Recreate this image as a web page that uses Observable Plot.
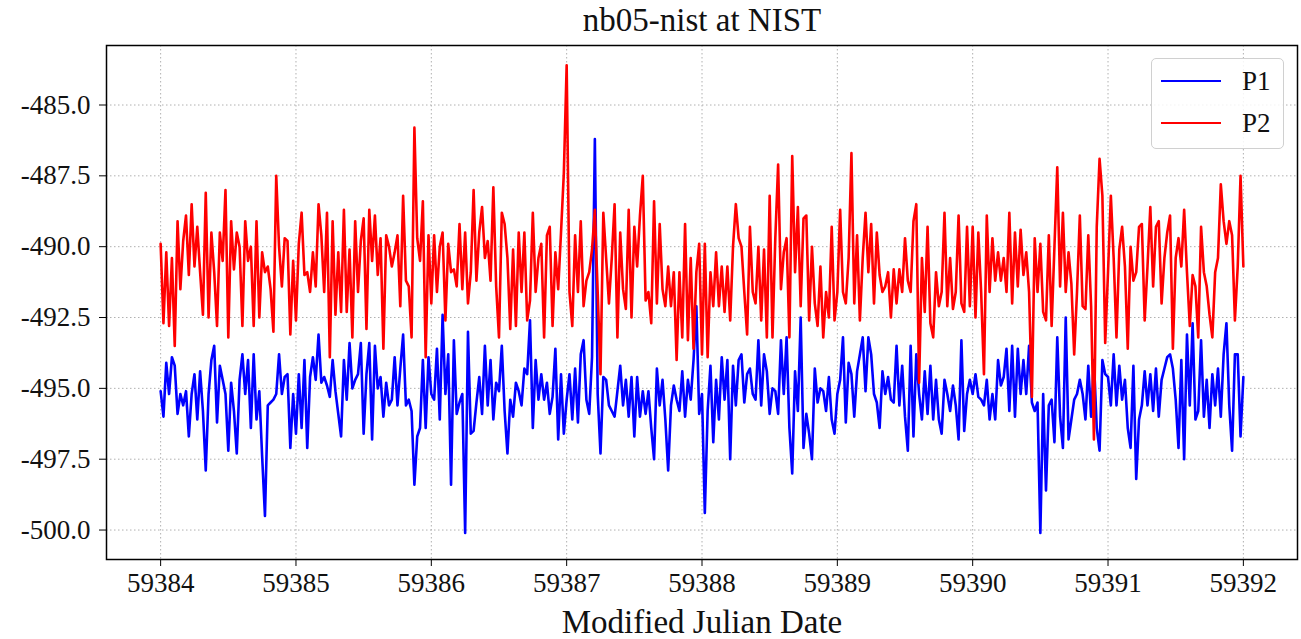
<!DOCTYPE html>
<html>
<head>
<meta charset="utf-8">
<script src="https://cdn.jsdelivr.net/npm/d3@7"></script>
<script src="https://cdn.jsdelivr.net/npm/@observablehq/plot@0.6"></script>
<style>
  html, body { margin: 0; padding: 0; background: white; }
  #wrap { position: relative; width: 1301px; height: 639px; font-family: "Liberation Serif", "Times New Roman", serif; }
  #chart svg text { font-family: "Liberation Serif", "Times New Roman", serif !important; font-variant: normal !important; }
  #legend { position: absolute; left: 1151px; top: 58px; width: 133px; height: 91px; box-sizing: border-box;
            border: 1px solid #d0d0d0; border-radius: 5px; background: rgba(255,255,255,0.85); }
  .item { position: absolute; left: 0; height: 30px; display: flex; align-items: center; }
  .swatch { width: 60px; height: 2.5px; margin-left: 9px; }
  .lab { margin-left: 21px; font-size: 27px; color: #111; }
</style>
</head>
<body>
<div id="wrap">
  <div id="chart"></div>
  <div id="legend"></div>
</div>
<script>
const title = "nb05-nist at NIST";
const xLabel = "Modified Julian Date";
const seriesNames = ["P1", "P2"];
const seriesColors = ["#0000ff", "#ff0000"];
const xTicks = [59384, 59385, 59386, 59387, 59388, 59389, 59390, 59391, 59392];
const yTicks = [-485.0, -487.5, -490.0, -492.5, -495.0, -497.5, -500.0];
const startMJD = 59384;
const samplesPerDay = 48;

// P1 values, one row per day (30-minute samples), plus final sample at 59392.0
const p1 = [
  -495.1,-496.0,-494.1,-495.2,-493.9,-494.2,-495.9,-495.2,-495.6,-495.1,-496.7,-495.2,-494.5,-496.1,-494.4,-495.8,-497.9,-495.2,-494.0,-493.5,-496.2,-494.2,-494.7,-495.2,-497.2,-494.8,-495.8,-497.3,-494.7,-493.8,-495.2,-494.0,-496.4,-493.8,-496.1,-495.1,-497.4,-499.5,-495.6,-495.5,-495.4,-495.2,-493.8,-495.2,-494.6,-494.5,-497.1,-495.2,
  -496.6,-494.5,-496.4,-494.0,-497.1,-494.6,-493.9,-494.7,-493.1,-494.8,-494.6,-494.9,-495.3,-494.0,-495.1,-495.9,-496.7,-494.0,-495.4,-493.4,-495.0,-494.7,-494.5,-493.4,-496.6,-494.5,-493.4,-496.8,-493.5,-495.0,-494.6,-496.0,-494.8,-495.6,-495.4,-493.9,-495.6,-494.3,-493.1,-495.6,-495.4,-495.8,-498.4,-496.7,-496.4,-494.0,-496.4,-493.9,
  -495.2,-495.4,-493.6,-496.1,-492.4,-495.2,-493.8,-498.4,-493.3,-495.9,-495.5,-495.2,-500.1,-493.0,-496.6,-496.5,-495.5,-494.6,-495.9,-493.5,-495.6,-494.0,-496.1,-494.8,-495.1,-493.5,-495.8,-497.3,-495.4,-496.0,-494.8,-495.1,-495.6,-494.3,-494.5,-492.6,-496.4,-494.0,-495.4,-494.5,-495.4,-494.8,-495.9,-495.3,-493.6,-496.8,-494.5,-496.6,
  -495.4,-494.5,-496.1,-494.3,-496.2,-493.8,-493.3,-495.4,-495.9,-493.9,-486.2,-495.2,-497.3,-494.6,-494.7,-495.6,-495.8,-496.0,-495.1,-494.2,-495.6,-494.7,-496.0,-494.6,-496.7,-494.6,-496.0,-495.1,-495.9,-495.1,-496.4,-497.5,-494.3,-495.6,-494.7,-496.1,-497.9,-495.6,-494.9,-495.4,-495.8,-494.4,-496.0,-494.7,-495.4,-494.0,-492.1,-495.9,
  -495.2,-499.4,-495.8,-494.2,-496.9,-494.7,-496.1,-493.9,-495.4,-494.0,-497.5,-494.2,-495.6,-494.0,-493.8,-495.5,-494.5,-494.3,-495.2,-495.4,-493.3,-495.6,-493.8,-494.4,-495.9,-495.0,-495.1,-495.9,-493.3,-495.2,-493.2,-496.4,-498.0,-494.4,-495.8,-492.5,-497.1,-495.9,-496.6,-497.5,-494.3,-495.5,-495.0,-495.1,-495.8,-494.6,-496.1,-496.6,
  -495.2,-494.7,-493.2,-496.2,-494.1,-494.5,-496.0,-494.4,-493.8,-493.2,-495.1,-493.2,-493.8,-495.2,-495.5,-496.4,-494.4,-495.2,-494.6,-495.4,-495.5,-493.5,-495.6,-494.2,-496.0,-497.2,-493.5,-496.7,-493.8,-495.2,-496.1,-494.4,-495.9,-494.2,-496.1,-494.7,-496.1,-496.6,-494.7,-495.2,-495.8,-494.9,-495.6,-496.8,-493.3,-496.5,-495.2,-494.7,
  -495.2,-494.5,-495.3,-495.4,-495.6,-494.7,-496.1,-495.2,-496.1,-494.0,-494.9,-494.6,-493.6,-495.8,-493.5,-496.0,-493.6,-495.2,-494.0,-495.2,-493.5,-495.5,-495.8,-495.5,-500.1,-495.2,-498.6,-495.6,-495.4,-496.9,-493.2,-496.0,-497.1,-492.5,-496.8,-496.1,-495.4,-495.2,-494.7,-495.2,-496.1,-494.2,-496.0,-494.0,-496.4,-497.2,-494.0,-494.5,
  -494.6,-495.6,-493.8,-495.6,-494.2,-495.4,-494.7,-496.4,-497.1,-494.2,-498.2,-496.1,-495.6,-494.4,-495.6,-494.5,-495.8,-494.3,-496.0,-494.7,-494.3,-493.9,-493.8,-494.3,-495.4,-497.1,-494.0,-497.5,-493.1,-495.6,-492.7,-496.1,-495.8,-493.3,-496.0,-494.7,-496.4,-494.5,-495.6,-494.3,-496.0,-493.8,-492.7,-495.6,-497.2,-493.8,-493.8,-496.7,
  -494.6
];

// P2 values, same sampling
const p2 = [
  -489.9,-492.7,-490.2,-492.8,-490.4,-493.5,-489.1,-491.5,-489.8,-488.9,-491.0,-488.5,-490.7,-489.3,-490.9,-492.4,-488.1,-492.5,-489.5,-490.9,-492.8,-489.5,-490.5,-488.0,-493.2,-489.1,-490.8,-489.5,-490.0,-492.8,-489.1,-490.5,-490.0,-492.8,-489.1,-492.5,-490.2,-490.9,-490.7,-491.5,-493.0,-487.5,-490.0,-491.4,-489.7,-489.8,-493.1,-490.5,
  -492.6,-489.9,-488.8,-491.0,-490.9,-491.6,-490.2,-491.4,-488.5,-489.6,-491.6,-488.8,-493.9,-489.1,-492.4,-490.2,-492.3,-488.7,-492.3,-490.1,-493.2,-489.1,-491.6,-489.8,-489.0,-492.9,-488.7,-490.5,-488.9,-491.0,-489.7,-493.6,-489.6,-490.0,-490.7,-490.2,-489.6,-492.1,-488.2,-491.2,-491.4,-493.2,-485.8,-489.7,-490.5,-488.4,-493.9,-489.6,
  -492.0,-489.6,-491.6,-490.0,-489.5,-492.6,-489.9,-490.9,-490.8,-491.4,-489.2,-491.5,-489.5,-492.0,-490.9,-488.0,-491.2,-489.5,-488.6,-490.4,-489.8,-491.2,-487.9,-491.4,-493.2,-488.8,-489.2,-490.4,-492.9,-490.1,-492.8,-489.5,-491.6,-489.5,-492.6,-491.9,-488.8,-491.6,-490.4,-489.9,-493.2,-489.6,-489.3,-492.8,-490.2,-491.5,-489.5,-487.4,
  -483.6,-491.6,-492.8,-489.6,-491.6,-489.1,-492.1,-491.2,-490.9,-490.1,-488.7,-491.6,-494.5,-488.8,-490.4,-492.0,-490.4,-488.5,-493.2,-489.5,-491.5,-492.2,-488.7,-492.5,-489.3,-490.7,-488.9,-487.5,-491.9,-491.6,-492.7,-488.4,-492.0,-489.2,-491.5,-492.1,-490.7,-492.1,-490.9,-494.0,-490.9,-493.2,-489.2,-493.3,-490.4,-493.6,-490.9,-489.9,
  -493.8,-489.9,-493.9,-490.9,-492.1,-490.2,-492.1,-490.7,-492.3,-490.7,-492.6,-490.0,-488.5,-489.7,-490.0,-491.6,-493.1,-489.3,-491.6,-492.0,-490.0,-492.6,-490.1,-493.2,-488.2,-493.2,-489.7,-487.1,-491.5,-490.2,-489.7,-493.2,-486.8,-490.9,-488.6,-492.1,-489.0,-488.9,-492.6,-490.0,-492.0,-492.8,-490.7,-493.2,-491.6,-492.5,-489.3,-492.6,
  -491.6,-488.7,-491.6,-492.0,-490.4,-486.7,-492.0,-489.6,-492.6,-490.4,-488.8,-490.9,-489.2,-492.0,-489.5,-491.0,-491.6,-491.4,-490.9,-492.5,-490.8,-492.0,-490.8,-491.6,-489.7,-491.2,-491.6,-489.1,-488.5,-494.8,-490.4,-492.3,-489.3,-492.7,-493.2,-490.9,-492.1,-491.6,-488.8,-492.1,-490.4,-492.2,-491.6,-488.9,-492.0,-492.3,-489.3,-492.1,
  -489.3,-492.5,-489.5,-491.6,-494.5,-488.9,-491.6,-489.7,-491.2,-490.2,-491.2,-490.4,-491.6,-488.8,-492.0,-489.5,-491.4,-489.4,-491.0,-490.2,-491.6,-495.3,-489.7,-491.6,-489.9,-492.3,-492.6,-489.6,-492.8,-490.0,-487.2,-491.4,-488.8,-491.6,-490.2,-491.3,-493.8,-491.6,-488.9,-492.1,-492.2,-489.6,-492.1,-496.8,-489.3,-486.9,-488.2,-493.4,
  -490.9,-488.2,-490.4,-493.2,-490.1,-489.3,-490.7,-493.6,-490.0,-491.2,-490.9,-489.3,-489.2,-492.6,-490.7,-488.6,-491.4,-489.3,-489.1,-492.0,-490.4,-489.5,-488.9,-493.6,-490.4,-489.7,-490.7,-488.7,-490.9,-492.8,-491.0,-491.4,-493.2,-489.3,-490.9,-491.4,-492.4,-493.2,-490.9,-490.4,-487.8,-489.1,-489.9,-489.1,-489.6,-492.6,-490.7,-487.5,
  -490.7
];

const mjd = p1.map((_, i) => startMJD + i / samplesPerDay);
const rows1 = mjd.map((t, i) => ({t, v: p1[i], series: seriesNames[0]}));
const rows2 = mjd.map((t, i) => ({t, v: p2[i], series: seriesNames[1]}));

const font = '"Liberation Serif", "Times New Roman", serif';
const gridStyle = {stroke: "#b0b0b0", strokeOpacity: 1, strokeWidth: 1, strokeDasharray: "1.5,2.5"};

const chart = Plot.plot({
  width: 1301,
  height: 639,
  marginTop: 45,
  marginBottom: 80,
  marginLeft: 106,
  marginRight: 4,
  style: {fontFamily: font, fontSize: "27px", background: "white", color: "#111"},
  x: {domain: [59383.6, 59392.4]},
  y: {domain: [-501.04, -482.9]},
  marks: [
    Plot.gridX(xTicks, gridStyle),
    Plot.gridY(yTicks, gridStyle),
    Plot.lineY(rows1, {x: "t", y: "v", stroke: seriesColors[0], strokeWidth: 2.6}),
    Plot.lineY(rows2, {x: "t", y: "v", stroke: seriesColors[1], strokeWidth: 2.6}),
    Plot.frame({stroke: "black", strokeWidth: 1.5}),
    Plot.axisX(xTicks, {tickSize: 7, tickPadding: 6, tickFormat: d => String(d), label: null, fontSize: 27, stroke: "black"}),
    Plot.axisY(yTicks, {tickSize: 7, tickPadding: 9, tickFormat: d => d.toFixed(1), label: null, fontSize: 27, stroke: "black"}),
    Plot.text([xLabel], {frameAnchor: "bottom", lineAnchor: "middle", dy: 63, fontSize: 33, fill: "#111"}),
    Plot.text([title], {frameAnchor: "top", lineAnchor: "middle", dy: -25, fontSize: 33, fill: "#111"})
  ]
});
document.getElementById("chart").appendChild(chart);

// Legend
const legend = document.getElementById("legend");
seriesNames.forEach((name, i) => {
  const item = document.createElement("div");
  item.className = "item";
  item.style.top = (i === 0 ? 7 : 49) + "px";
  item.innerHTML = `<div class="swatch" style="background:${seriesColors[i]}"></div><div class="lab">${name}</div>`;
  legend.appendChild(item);
});
</script>
</body>
</html>
